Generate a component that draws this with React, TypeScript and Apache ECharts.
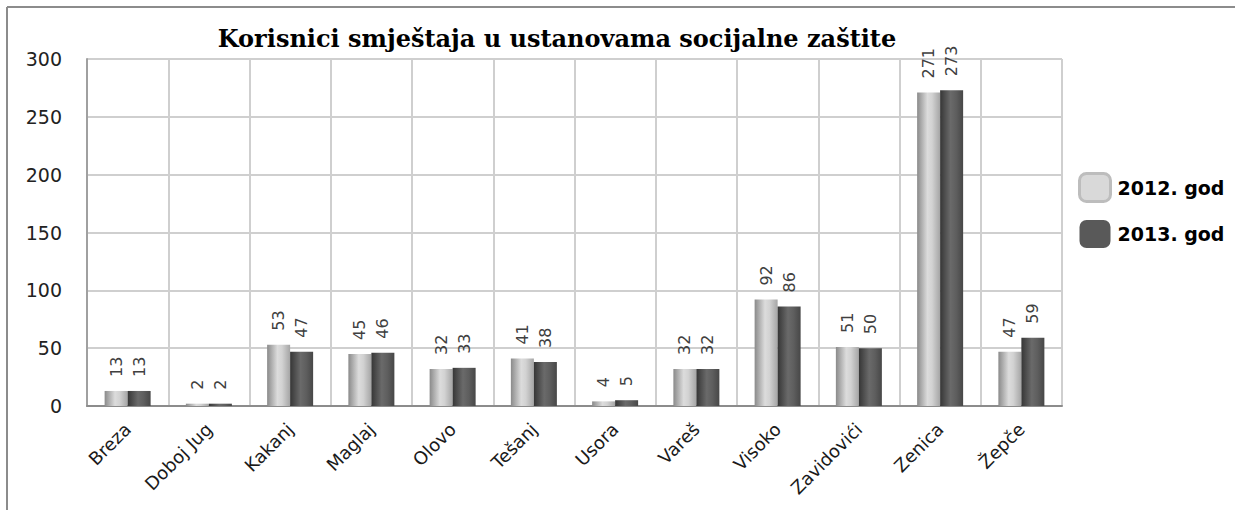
import React, { useEffect, useRef } from "react";
import * as echarts from "echarts";

const categories = ["Breza", "Doboj Jug", "Kakanj", "Maglaj", "Olovo", "Tešanj", "Usora", "Vareš", "Visoko", "Zavidovići", "Zenica", "Žepče"];
const values2012 = [13, 2, 53, 45, 32, 41, 4, 32, 92, 51, 271, 47];
const values2013 = [13, 2, 47, 46, 33, 38, 5, 32, 86, 50, 273, 59];
const seriesNames = ["2012. god", "2013. god"];
const titleText = "Korisnici smještaja u ustanovama socijalne zaštite";

export default function App() {
  const ref = useRef<HTMLDivElement>(null);
  useEffect(() => {
    if (!ref.current) return;
    const chart = echarts.init(ref.current, null, { renderer: "svg" });
    const lightGrad = new echarts.graphic.LinearGradient(0, 0, 1, 0, [
      { offset: 0, color: "#8a8a8a" },
      { offset: 0.45, color: "#dcdcdc" },
      { offset: 0.65, color: "#d2d2d2" },
      { offset: 1, color: "#a5a5a5" },
    ]);
    const darkGrad = new echarts.graphic.LinearGradient(0, 0, 1, 0, [
      { offset: 0, color: "#363636" },
      { offset: 0.45, color: "#6a6a6a" },
      { offset: 0.7, color: "#5e5e5e" },
      { offset: 1, color: "#474747" },
    ]);
    const labelCfg = {
      show: true,
      position: "top" as const,
      rotate: 90,
      align: "left" as const,
      verticalAlign: "middle" as const,
      distance: 14,
      fontFamily: "DejaVu Sans",
      fontSize: 16,
      color: "#404040",
    };
    chart.setOption({
      animation: false,
      backgroundColor: "#fff",
      title: {
        text: titleText,
        left: 552,
        textAlign: "center",
        top: 21,
        textStyle: { fontFamily: "DejaVu Serif", fontWeight: "bold", fontSize: 24, color: "#000" },
      },
      graphic: [
        { type: "line", shape: { x1: 7, y1: 7, x2: 1235, y2: 7 }, style: { stroke: "#8c8c8c", lineWidth: 2 }, silent: true },
        { type: "line", shape: { x1: 7, y1: 7, x2: 7, y2: 510 }, style: { stroke: "#8c8c8c", lineWidth: 2 }, silent: true },
      ],
      legend: {
        orient: "vertical",
        left: 1078,
        top: 172,
        padding: 0,
        itemWidth: 31,
        itemHeight: 28,
        itemGap: 17,
        icon: "roundRect",
        textStyle: { fontFamily: "DejaVu Sans", fontWeight: "bold", fontSize: 19, color: "#000", padding: [4, 0, 0, 2] },
        data: [
          { name: seriesNames[0], itemStyle: { color: "#d9d9d9", borderColor: "#bdbdbd", borderWidth: 3 } },
          { name: seriesNames[1], itemStyle: { color: "#595959", borderColor: "#595959", borderWidth: 0 } },
        ],
      },
      grid: { left: 87, top: 59, width: 975, height: 347, containLabel: false },
      xAxis: {
        type: "category",
        data: categories,
        axisLine: { show: true, lineStyle: { color: "#8c8c8c", width: 2 } },
        axisTick: { show: false },
        splitLine: { show: true, lineStyle: { color: "#cfcfcf", width: 2 } },
        axisLabel: { rotate: 45, margin: 20, interval: 0, fontFamily: "DejaVu Sans", fontSize: 18, color: "#1a1a1a" },
      },
      yAxis: {
        type: "value",
        min: 0,
        max: 300,
        interval: 50,
        axisLine: { show: true, lineStyle: { color: "#a0a0a0", width: 2 } },
        axisTick: { show: false },
        splitLine: { show: true, lineStyle: { color: "#cfcfcf", width: 2 } },
        axisLabel: { margin: 25, fontFamily: "DejaVu Sans", fontSize: 19, color: "#222" },
      },
      series: [
        { name: seriesNames[0], type: "bar", data: values2012, barWidth: 23, barGap: "0%", itemStyle: { color: lightGrad }, label: labelCfg },
        { name: seriesNames[1], type: "bar", data: values2013, barWidth: 23, barGap: "0%", itemStyle: { color: darkGrad }, label: labelCfg },
      ],
    });
    return () => chart.dispose();
  }, []);
  return <div ref={ref} style={{ position: "fixed", left: 0, top: 0, width: 1235, height: 510 }} />;
}
